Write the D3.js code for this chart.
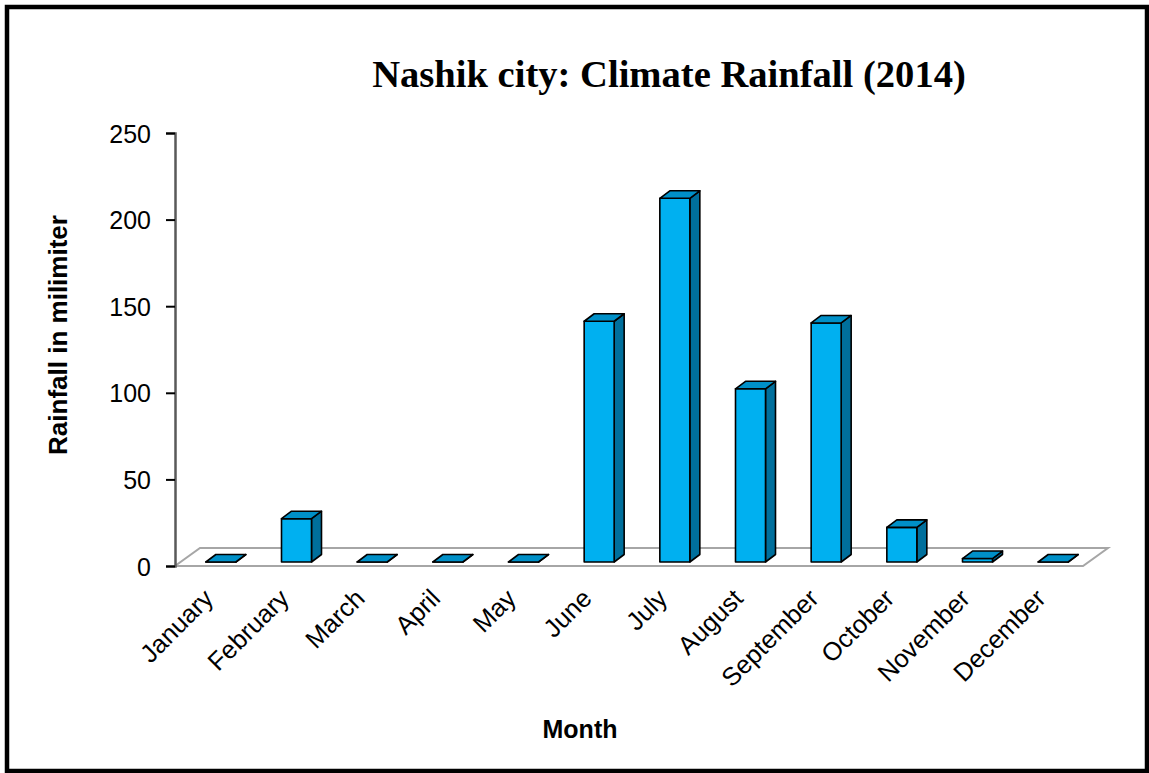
<!DOCTYPE html>
<html>
<head>
<meta charset="utf-8">
<script src="https://cdn.jsdelivr.net/npm/d3@7"></script>
<style>
  html, body { margin: 0; padding: 0; background: #fff; }
  svg { display: block; }
</style>
</head>
<body>
<svg id="chart" width="1149" height="773"></svg>
<script>
// Monthly rainfall for Nashik city, 2014 (mm)
const months = ["January", "February", "March", "April", "May", "June",
                "July", "August", "September", "October", "November", "December"];
const rainfall = [0, 25, 0, 0, 0, 139, 210, 100, 138, 20, 2, 0];
const yTicks = [0, 50, 100, 150, 200, 250];

const titleText = "Nashik city: Climate Rainfall (2014)";
const yTitle = "Rainfall in milimiter";
const xTitle = "Month";

const svg = d3.select("#chart");

// outer frame
svg.append("rect")
  .attr("x", 7).attr("y", 7).attr("width", 1140).attr("height", 764)
  .attr("fill", "#fff").attr("stroke", "#000").attr("stroke-width", 4.5);

// plot geometry
const plotLeft = 175, plotRight = 1083, plotBase = 566, plotTop = 133;
const floorDx = 25, floorDy = -18;   // floor depth
const barDx = 10, barDy = -7.5;      // bar depth
const barOffX = 8, barOffY = -4;     // bars sit inside the floor
const barW = 30;

const x = d3.scaleBand().domain(months).range([plotLeft, plotRight]).padding(0);
const y = d3.scaleLinear().domain([0, 250]).range([plotBase, plotTop]);

// floor
svg.append("polygon")
  .attr("points", [[plotLeft, plotBase], [plotRight, plotBase],
                   [plotRight + floorDx, plotBase + floorDy], [plotLeft + floorDx, plotBase + floorDy]].join(" "))
  .attr("fill", "#fff").attr("stroke", "#a6a6a6").attr("stroke-width", 2);

// value axis
const yAxis = d3.axisLeft(y).tickValues(yTicks).tickSize(9).tickPadding(15);
const gy = svg.append("g").attr("transform", `translate(${plotLeft},0)`).call(yAxis);
gy.select(".domain").attr("stroke", "#595959").attr("stroke-width", 2.5);
gy.selectAll(".tick line").attr("stroke", "#000").attr("stroke-width", 2);
gy.selectAll(".tick text")
  .attr("font-family", "Liberation Sans, Arial, sans-serif")
  .attr("font-size", 25).attr("fill", "#000").attr("dy", "0.36em");

// bars
const colFront = "#00b0f0", colTop = "#0090c8", colSide = "#006f9c";
const bars = svg.append("g");
months.forEach((m, i) => {
  const v = rainfall[i];
  const cx = x(m) + x.bandwidth() / 2 + barOffX;
  const x0 = cx - barW / 2, x1 = cx + barW / 2;
  const yb = y(0) + barOffY, yt = y(v) + barOffY;
  const g = bars.append("g")
    .attr("stroke", "#000").attr("stroke-width", 1.6).attr("stroke-linejoin", "round");
  // side face
  g.append("polygon")
    .attr("points", [[x1, yb], [x1 + barDx, yb + barDy], [x1 + barDx, yt + barDy], [x1, yt]].join(" "))
    .attr("fill", colSide);
  // front face
  g.append("polygon")
    .attr("points", [[x0, yb], [x1, yb], [x1, yt], [x0, yt]].join(" "))
    .attr("fill", colFront);
  // top face
  g.append("polygon")
    .attr("points", [[x0, yt], [x1, yt], [x1 + barDx, yt + barDy], [x0 + barDx, yt + barDy]].join(" "))
    .attr("fill", colTop);
});

// category labels
svg.append("g").selectAll("text").data(months).join("text")
  .attr("transform", d => `translate(${x(d) + x.bandwidth() / 2 + 2},${plotBase + 34}) rotate(-45)`)
  .attr("text-anchor", "end")
  .attr("font-family", "Liberation Sans, Arial, sans-serif")
  .attr("font-size", 25.5).attr("fill", "#000")
  .text(d => d);

// title
svg.append("text")
  .attr("x", 669).attr("y", 87).attr("text-anchor", "middle")
  .attr("font-family", "Liberation Serif, Times New Roman, serif")
  .attr("font-weight", "bold").attr("font-size", 38.6).attr("fill", "#000")
  .text(titleText);

// axis titles
svg.append("text")
  .attr("transform", `translate(67,335) rotate(-90)`)
  .attr("text-anchor", "middle")
  .attr("font-family", "Liberation Sans, Arial, sans-serif")
  .attr("font-weight", "bold").attr("font-size", 26).attr("fill", "#000")
  .text(yTitle);

svg.append("text")
  .attr("x", 580).attr("y", 738).attr("text-anchor", "middle")
  .attr("font-family", "Liberation Sans, Arial, sans-serif")
  .attr("font-weight", "bold").attr("font-size", 25).attr("fill", "#000")
  .text(xTitle);
</script>
</body>
</html>
